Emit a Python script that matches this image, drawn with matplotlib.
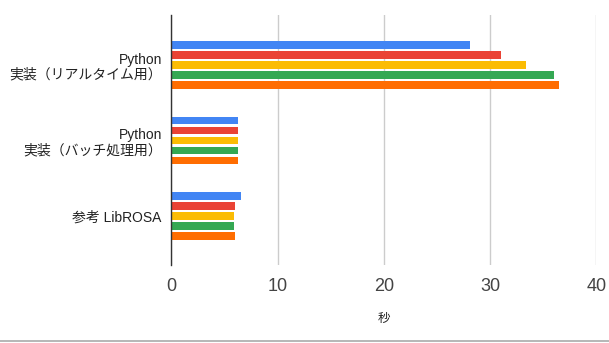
import numpy as np
import matplotlib
matplotlib.use("Agg")
from matplotlib import pyplot as plt
from matplotlib.lines import Line2D

plt.rcParams['font.family'] = ['Liberation Sans', 'Noto Sans CJK JP', 'DejaVu Sans']

# Categories (top to bottom) and the five measurement runs
categories = ['Python\n実装（リアルタイム用）', 'Python\n実装（バッチ処理用）', '参考 LibROSA']
run1 = [28.1, 6.25, 6.5]
run2 = [31.0, 6.25, 5.95]
run3 = [33.4, 6.25, 5.85]
run4 = [36.0, 6.25, 5.85]
run5 = [36.5, 6.25, 5.95]
runs = [run1, run2, run3, run4, run5]
colors = ['#4285F4', '#EA4335', '#FBBC04', '#34A853', '#FF6D01']
x_ticks = [0, 10, 20, 30, 40]

fig = plt.figure(figsize=(6.09, 3.43), dpi=100)
ax = fig.add_axes([0.2816, 0.227, 0.6974, 0.729])

pos = np.arange(len(categories))
step = 0.1325
for j, (vals, col) in enumerate(zip(runs, colors)):
    ax.barh(pos + (j - 2) * step, vals, height=0.1, color=col, zorder=3)

ax.set_xlim(0, 40)
ax.set_ylim(2.65, -0.662)
ax.set_xticks(x_ticks)
ax.set_yticks(pos)
ax.set_yticklabels(categories, fontsize=10, color='#222222', linespacing=1.08)
ax.tick_params(axis='x', labelsize=13, colors='#444444', length=0, pad=9)
ax.tick_params(axis='y', length=0, pad=7)
ax.grid(axis='x', color='#cccccc', linewidth=1, zorder=0)

for side in ['top', 'right', 'bottom']:
    ax.spines[side].set_visible(False)
ax.spines['left'].set_color('#333333')
ax.spines['left'].set_linewidth(1)
ax.spines['left'].set_zorder(4)

ax.set_xlabel('秒', fontsize=9, color='#222222', labelpad=13)

# bottom border line
fig.add_artist(Line2D([0, 1], [1 - 341 / 343] * 2, color='#aaaaaa', linewidth=1.2,
                      transform=fig.transFigure))

fig.savefig('out.png', dpi=100)
